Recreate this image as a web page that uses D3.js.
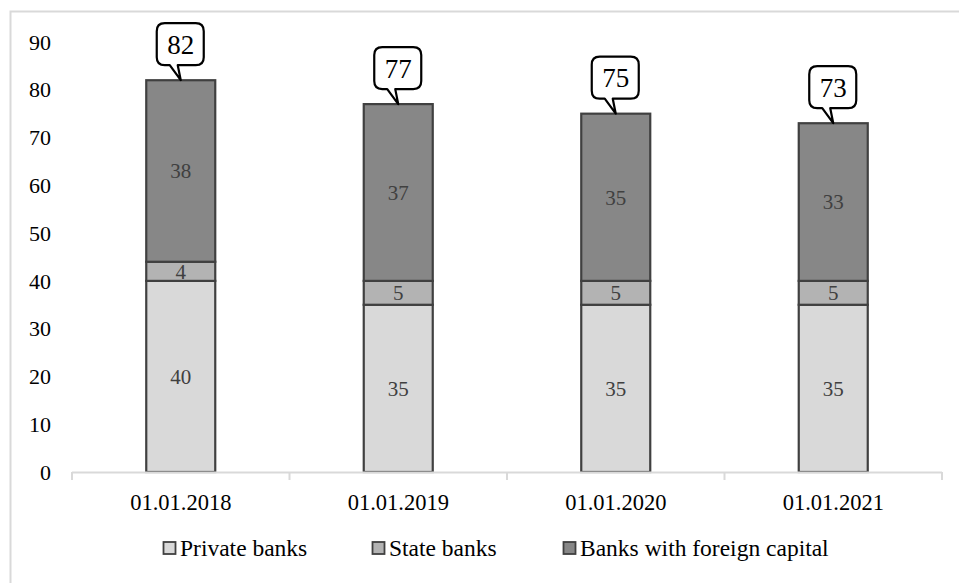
<!DOCTYPE html>
<html>
<head>
<meta charset="utf-8">
<script src="https://cdn.jsdelivr.net/npm/d3@7"></script>
<style>
  body { margin: 0; background: #fff; }
  text { font-family: "Liberation Serif", "Times New Roman", serif; }
</style>
</head>
<body>
<script>
var dates = ["01.01.2018", "01.01.2019", "01.01.2020", "01.01.2021"];
var privateBanks = [40, 35, 35, 35];
var stateBanks = [4, 5, 5, 5];
var foreignBanks = [38, 37, 35, 33];
var totals = [82, 77, 75, 73];
var yTicks = [0, 10, 20, 30, 40, 50, 60, 70, 80, 90];
var seriesNames = ["Private banks", "State banks", "Banks with foreign capital"];
var seriesColors = ["#d9d9d9", "#b3b3b3", "#878787"];

var w = 959, h = 583;
var padLeft = 72, padRight = 942, padTop = 42, padBottom = 472;

var svg = d3.select("body").append("svg")
    .attr("width", w)
    .attr("height", h);

// frame around the chart area (top and left edges visible)
svg.append("path")
    .attr("d", "M10.5,583 V11.5 H959")
    .attr("fill", "none")
    .attr("stroke", "#d9d9d9")
    .attr("stroke-width", 2);

var x = d3.scaleBand().domain(dates).range([padLeft, padRight]);
var y = d3.scaleLinear().domain([0, 90]).range([padBottom, padTop]);
var barW = 69;

// y tick labels (no axis line)
svg.selectAll("text.ytick")
    .data(yTicks)
    .enter()
    .append("text")
    .attr("class", "ytick")
    .attr("x", 51)
    .attr("y", function (d) { return y(d); })
    .attr("dy", "0.35em")
    .attr("text-anchor", "end")
    .attr("font-size", 22)
    .attr("fill", "#000")
    .text(function (d) { return d; });

// stacked data
var rows = dates.map(function (d, i) {
    return { date: d, p: privateBanks[i], s: stateBanks[i], f: foreignBanks[i] };
});
var stack = d3.stack().keys(["p", "s", "f"])(rows);

var groups = svg.selectAll("g.series")
    .data(stack)
    .enter()
    .append("g")
    .attr("class", "series")
    .attr("fill", function (d, i) { return seriesColors[i]; });

groups.selectAll("rect")
    .data(function (d) { return d; })
    .enter()
    .append("rect")
    .attr("x", function (d) { return x(d.data.date) + x.bandwidth() / 2 - barW / 2; })
    .attr("y", function (d) { return y(d[1]); })
    .attr("width", barW)
    .attr("height", function (d) { return y(d[0]) - y(d[1]); })
    .attr("stroke", "#404040")
    .attr("stroke-width", 2.2);

// segment value labels
groups.selectAll("text")
    .data(function (d) { return d; })
    .enter()
    .append("text")
    .attr("x", function (d) { return x(d.data.date) + x.bandwidth() / 2; })
    .attr("y", function (d) { return y((d[0] + d[1]) / 2); })
    .attr("dy", "0.35em")
    .attr("text-anchor", "middle")
    .attr("font-size", 21)
    .attr("fill", "#404040")
    .text(function (d) { return d[1] - d[0]; });

// x axis line and ticks
var axis = svg.append("g");
axis.append("line")
    .attr("x1", padLeft).attr("x2", padRight)
    .attr("y1", padBottom + 0.5).attr("y2", padBottom + 0.5)
    .attr("stroke", "#d9d9d9")
    .attr("stroke-width", 2);
var tickXs = dates.map(function (d) { return x(d); }).concat([padRight]);
axis.selectAll("line.tick")
    .data(tickXs)
    .enter()
    .append("line")
    .attr("class", "tick")
    .attr("x1", function (d) { return d; })
    .attr("x2", function (d) { return d; })
    .attr("y1", padBottom)
    .attr("y2", padBottom + 8)
    .attr("stroke", "#d9d9d9")
    .attr("stroke-width", 2);

axis.selectAll("text")
    .data(dates)
    .enter()
    .append("text")
    .attr("x", function (d) { return x(d) + x.bandwidth() / 2; })
    .attr("y", 510)
    .attr("text-anchor", "middle")
    .attr("font-size", 22.5)
    .attr("fill", "#000")
    .text(function (d) { return d; });

// callouts with totals
function callout(cx, tipY) {
    var bx0 = cx - 24, bx1 = cx + 23;
    var by1 = tipY - 15, by0 = by1 - 42;
    var r = 8;
    return "M" + (bx0 + r) + "," + by0 +
        " H" + (bx1 - r) +
        " Q" + bx1 + "," + by0 + " " + bx1 + "," + (by0 + r) +
        " V" + (by1 - r) +
        " Q" + bx1 + "," + by1 + " " + (bx1 - r) + "," + by1 +
        " H" + (cx - 3) +
        " L" + cx + "," + tipY +
        " L" + (cx - 11) + "," + by1 +
        " H" + (bx0 + r) +
        " Q" + bx0 + "," + by1 + " " + bx0 + "," + (by1 - r) +
        " V" + (by0 + r) +
        " Q" + bx0 + "," + by0 + " " + (bx0 + r) + "," + by0 + " Z";
}

var labels = svg.selectAll("g.callout")
    .data(totals)
    .enter()
    .append("g")
    .attr("class", "callout");

labels.append("path")
    .attr("d", function (d, i) { return callout(x(dates[i]) + x.bandwidth() / 2, y(d)); })
    .attr("fill", "#fff")
    .attr("stroke", "#000")
    .attr("stroke-width", 2.2)
    .attr("stroke-linejoin", "round");

labels.append("text")
    .attr("x", function (d, i) { return x(dates[i]) + x.bandwidth() / 2; })
    .attr("y", function (d) { return y(d) - 15 - 21; })
    .attr("dy", "0.35em")
    .attr("text-anchor", "middle")
    .attr("font-size", 27)
    .attr("fill", "#000")
    .text(function (d) { return d; });

// legend
var legendX = [163, 372, 563];
var legend = svg.selectAll("g.legend")
    .data(seriesNames)
    .enter()
    .append("g")
    .attr("class", "legend")
    .attr("transform", function (d, i) { return "translate(" + legendX[i] + ",548)"; });

legend.append("rect")
    .attr("x", 0.5)
    .attr("y", -6)
    .attr("width", 12)
    .attr("height", 12)
    .attr("fill", function (d, i) { return seriesColors[i]; })
    .attr("stroke", "#404040")
    .attr("stroke-width", 1.8);

legend.append("text")
    .attr("x", 17)
    .attr("y", 0)
    .attr("dy", "0.35em")
    .attr("font-size", 23.5)
    .attr("fill", "#000")
    .text(function (d) { return d; });
</script>
</body>
</html>
